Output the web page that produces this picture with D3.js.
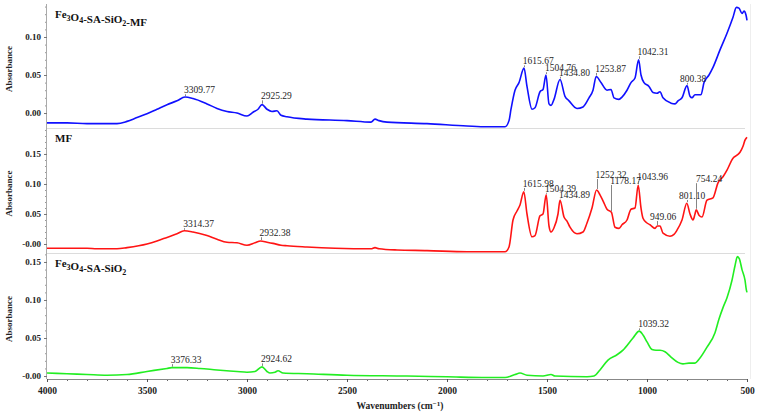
<!DOCTYPE html>
<html>
<head>
<meta charset="utf-8">
<script src="https://cdn.jsdelivr.net/npm/d3@7"></script>
<style>
  body { margin: 0; background: #fff; }
  svg { display: block; font-family: "Liberation Serif", "DejaVu Serif", serif; }
</style>
</head>
<body>
<div id="app"></div>
<script>
// spectra, [wavenumber, absorbance]
let mfSilicaAbs = [
  [4000,-0.013],[3900,-0.013],[3800,-0.014],[3700,-0.014],[3650,-0.014],[3600,-0.011],[3550,-0.006],
  [3500,-0.001],[3450,0.005],[3400,0.011],[3350,0.016],[3310,0.021],[3270,0.019],[3200,0.012],
  [3150,0.006],[3100,0.002],[3050,0.000],[3000,-0.004],[2970,0.001],[2945,0.005],[2925,0.011],
  [2900,0.005],[2875,0.002],[2850,0.003],[2830,-0.003],[2800,-0.005],[2700,-0.008],[2500,-0.010],
  [2380,-0.012],[2360,-0.008],[2340,-0.010],[2300,-0.012],[2100,-0.014],[1900,-0.017],[1800,-0.018],
  [1710,-0.018],[1690,-0.010],[1680,0.005],[1660,0.030],[1640,0.040],[1615,0.059],[1600,0.035],
  [1575,0.005],[1560,0.007],[1535,0.028],[1520,0.031],[1505,0.050],[1490,0.012],[1480,0.010],
  [1465,0.018],[1435,0.044],[1410,0.022],[1390,0.016],[1350,0.006],[1320,0.008],[1290,0.020],
  [1270,0.030],[1254,0.048],[1230,0.040],[1200,0.030],[1180,0.031],[1165,0.020],[1140,0.018],
  [1125,0.021],[1100,0.030],[1080,0.040],[1060,0.046],[1042,0.070],[1030,0.050],[1015,0.040],
  [990,0.035],[970,0.027],[950,0.026],[935,0.028],[920,0.020],[880,0.013],[860,0.012],[845,0.016],
  [825,0.020],[800,0.036],[785,0.022],[775,0.020],[760,0.024],[730,0.024],[715,0.040],[690,0.050],
  [670,0.060],[635,0.083],[600,0.105],[570,0.126],[553,0.139],[540,0.138],[525,0.131],[515,0.134],
  [505,0.129],[500,0.122]
];

let mfAbs = [
  [4000,-0.007],[3800,-0.007],[3750,-0.008],[3650,-0.008],[3600,-0.006],[3500,0.000],[3450,0.005],
  [3400,0.011],[3350,0.017],[3314,0.022],[3270,0.020],[3200,0.014],[3150,0.008],[3100,0.003],
  [3050,0.002],[3000,-0.002],[2960,0.002],[2932,0.005],[2900,0.003],[2870,0.001],[2830,-0.002],
  [2800,-0.003],[2700,-0.005],[2560,-0.007],[2380,-0.008],[2360,-0.006],[2340,-0.008],[2250,-0.010],
  [2100,-0.011],[1900,-0.013],[1710,-0.013],[1690,-0.005],[1670,0.040],[1650,0.055],[1635,0.065],
  [1616,0.087],[1600,0.050],[1575,0.012],[1560,0.014],[1535,0.047],[1520,0.050],[1504,0.082],
  [1490,0.030],[1480,0.020],[1465,0.027],[1445,0.050],[1435,0.073],[1415,0.045],[1400,0.038],
  [1385,0.028],[1350,0.017],[1320,0.020],[1300,0.035],[1275,0.060],[1252,0.090],[1235,0.082],
  [1220,0.072],[1200,0.058],[1178,0.053],[1160,0.028],[1140,0.026],[1125,0.032],[1100,0.040],
  [1080,0.058],[1060,0.060],[1044,0.098],[1030,0.060],[1020,0.043],[1000,0.035],[985,0.032],
  [960,0.026],[949,0.030],[935,0.030],[920,0.018],[885,0.013],[865,0.016],[850,0.023],[825,0.040],
  [801,0.068],[785,0.050],[770,0.040],[760,0.050],[754,0.057],[740,0.048],[725,0.045],[700,0.073],
  [670,0.077],[645,0.102],[620,0.112],[600,0.123],[570,0.143],[550,0.148],[535,0.153],[520,0.163],
  [510,0.173],[500,0.178]
];

let silicaAbs = [
  [4000,0.004],[3900,0.003],[3800,0.002],[3700,0.001],[3600,0.002],[3500,0.006],[3400,0.010],
  [3376,0.011],[3300,0.011],[3235,0.010],[3150,0.008],[3050,0.006],[3000,0.005],[2960,0.006],
  [2925,0.012],[2900,0.006],[2885,0.004],[2860,0.005],[2845,0.007],[2820,0.004],[2700,0.003],
  [2500,0.001],[2200,0.000],[2000,-0.001],[1800,-0.002],[1710,-0.002],[1660,0.002],[1635,0.004],
  [1600,0.001],[1520,0.000],[1480,0.002],[1460,0.000],[1300,-0.001],[1265,0.000],[1235,0.008],
  [1195,0.021],[1150,0.028],[1120,0.034],[1070,0.050],[1039,0.059],[1020,0.054],[1000,0.045],
  [975,0.035],[955,0.034],[935,0.034],[910,0.032],[880,0.025],[845,0.018],[820,0.016],[790,0.017],
  [760,0.017],[740,0.022],[700,0.038],[660,0.057],[640,0.075],[620,0.090],[600,0.103],[575,0.126],
  [560,0.145],[548,0.157],[538,0.154],[525,0.140],[510,0.126],[503,0.113],[500,0.110]
];

// peak labels: [wavenumber, peak absorbance, label absorbance, text, label wavenumber]
let mfSilicaPeaks = [
  [3309.77,0.021,0.026,'3309.77'],[2925.29,0.011,0.018,'2925.29'],[1615.67,0.059,0.064,'1615.67'],
  [1504.76,0.050,0.055,'1504.76'],[1434.80,0.044,0.049,'1434.80'],[1253.87,0.048,0.054,'1253.87'],
  [1042.31,0.070,0.076,'1042.31'],[800.38,0.036,0.041,'800.38',830]
];
let mfPeaks = [
  [3314.37,0.022,0.028,'3314.37'],[2932.38,0.005,0.013,'2932.38'],[1615.98,0.087,0.095,'1615.98'],
  [1504.39,0.082,0.087,'1504.39'],[1434.89,0.073,0.077,'1434.89'],[1252.32,0.090,0.110,'1252.32'],
  [1178.17,0.053,0.100,'1178.17'],[1043.96,0.098,0.107,'1043.96'],[949.06,0.030,0.040,'949.06',980],
  [801.10,0.068,0.075,'801.10',835],[754.24,0.057,0.103,'754.24',750]
];
let silicaPeaks = [
  [3376.33,0.011,0.017,'3376.33'],[2924.62,0.012,0.018,'2924.62'],[1039.32,0.059,0.064,'1039.32']
];

let titles = ['Fe3O4-SA-SiO2-MF', 'MF', 'Fe3O4-SA-SiO2'];
let colors = ['#1010ff', '#ff1414', '#22ee22'];
let yTicks = [[0.10, 0.05, 0], [0.15, 0.10, 0.05, 0], [0.15, 0.10, 0.05, 0]];
let yTickLabels = [['0.10','0.05','0.00'], ['0.15','0.10','0.05','-0.00'], ['0.15','0.10','0.05','-0.00']];
let xTicks = [4000, 3500, 3000, 2500, 2000, 1500, 1000, 500];

let svgWidth = 758, svgHeight = 414;
let left = 47, right = 747;

        //panel pixel bands and absorbance range
let panels = [
  {top: 4,   bottom: 128, domain: [-0.0197, 0.1434], data: mfSilicaAbs, peaks: mfSilicaPeaks},
  {top: 128, bottom: 253, domain: [-0.015, 0.1933],  data: mfAbs,       peaks: mfPeaks},
  {top: 253, bottom: 379, domain: [-0.0039, 0.1618], data: silicaAbs,   peaks: silicaPeaks}
];

let svg = d3.select('#app').append('svg')
    .attr('width', svgWidth)
    .attr('height', svgHeight);

let x = d3.scaleLinear().domain([4000, 500]).range([left, right]);

panels.forEach((p, i) => {
    let y = d3.scaleLinear().domain(p.domain).range([p.bottom, p.top]);

    svg.append('clipPath').attr('id', 'clip' + i)
      .append('rect')
        .attr('x', left).attr('y', p.top)
        .attr('width', right - left + 3).attr('height', p.bottom - p.top);

        //separator at the top of the lower panels
    if (i > 0) {
        svg.append('line')
            .attr('x1', left).attr('x2', 745)
            .attr('y1', p.top + 0.5).attr('y2', p.top + 0.5)
            .attr('stroke', '#dcdcdc');
    }

    let g = svg.append('g');

        //minor ticks
    let yAxisMinor = d3.axisLeft(y)
        .tickValues(d3.range(0, p.domain[1], 0.01).filter(v => v > p.domain[0]))
        .tickSize(2).tickFormat('');
    g.append('g')
        .attr('transform', `translate(${left},0)`)
        .call(yAxisMinor)
        .call(a => a.select('.domain').remove())
        .call(a => a.selectAll('line').attr('stroke', '#999'));

    let yAxis = d3.axisLeft(y)
        .tickValues(yTicks[i])
        .tickSize(3)
        .tickPadding(3)
        .tickFormat((d, k) => yTickLabels[i][k]);
    g.append('g')
        .attr('transform', `translate(${left},0)`)
        .call(yAxis)
        .call(a => a.select('.domain').attr('stroke', '#aaa').attr('d', `M-0.5,${p.top}V${p.bottom}`))
        .call(a => a.selectAll('line').attr('stroke', '#777'))
        .call(a => a.selectAll('text')
            .attr('font-family', '"Liberation Serif", serif')
            .attr('font-weight', 'bold')
            .attr('font-size', 9)
            .attr('fill', '#222'));

        //y label
    svg.append('text')
        .attr('transform', `translate(12,${(p.top + p.bottom) / 2 + 3}) rotate(-90)`)
        .attr('text-anchor', 'middle')
        .attr('font-weight', 'bold')
        .attr('font-size', 9)
        .attr('fill', '#222')
        .text('Absorbance');

        //spectrum
    let line = d3.line()
        .x(d => x(d[0]))
        .y(d => y(d[1]))
        .curve(d3.curveMonotoneX);

    svg.append('path')
        .datum(p.data)
        .attr('clip-path', `url(#clip${i})`)
        .attr('fill', 'none')
        .attr('stroke', colors[i])
        .attr('stroke-width', 1.6)
        .attr('stroke-linejoin', 'round')
        .attr('d', line);

        //peak markers
    let pk = svg.append('g').selectAll('g')
        .data(p.peaks)
        .enter().append('g');

    pk.append('line')
        .attr('x1', d => Math.round(x(d[0])) + 0.5)
        .attr('x2', d => Math.round(x(d[0])) + 0.5)
        .attr('y1', d => y(d[1]) - 1)
        .attr('y2', d => y(d[2]) + 1)
        .attr('stroke', '#666')
        .attr('stroke-width', 0.8);

    pk.append('text')
        .attr('x', d => x(d[4] || d[0]) - 1)
        .attr('y', d => y(d[2]))
        .attr('font-size', 9.5)
        .attr('fill', '#1e1e1e')
        .text(d => d[3]);

        //panel title, digits as subscripts
    let title = svg.append('text')
        .attr('x', 55)
        .attr('y', p.top + 14)
        .attr('font-weight', 'bold')
        .attr('font-size', 11)
        .attr('fill', '#111');
    titles[i].split(/(\d)/).filter(s => s).forEach(s => {
        if (/\d/.test(s)) {
            title.append('tspan').attr('font-size', 8).attr('dy', 2.5).text(s);
            title.append('tspan').attr('dy', -2.5).text('');
        } else {
            title.append('tspan').text(s);
        }
    });
});

        //faint right edge
svg.append('line')
    .attr('x1', 750.5).attr('x2', 750.5)
    .attr('y1', 4).attr('y2', 379)
    .attr('stroke', '#eeeeee');

        //x axis
let xMinor = d3.axisBottom(x).tickValues(d3.range(500, 4001, 100)).tickSize(2).tickFormat('');
svg.append('g')
    .attr('transform', `translate(0,${379})`)
    .call(xMinor)
    .call(a => a.select('.domain').remove())
    .call(a => a.selectAll('line').attr('stroke', '#666'));

let xAxis = d3.axisBottom(x).tickValues(xTicks).tickSize(3).tickPadding(5).tickFormat(d3.format('d'));
svg.append('g')
    .attr('transform', `translate(0,${379})`)
    .call(xAxis)
    .call(a => a.select('.domain').attr('stroke', '#888').attr('d', `M${left},0.5H${right + 1}`))
    .call(a => a.selectAll('line').attr('stroke', '#555'))
    .call(a => a.selectAll('text')
        .attr('font-family', '"Liberation Serif", serif')
        .attr('font-weight', 'bold')
        .attr('font-size', 9.5)
        .attr('fill', '#222'));

let xTitle = svg.append('text')
    .attr('x', 400)
    .attr('y', 409)
    .attr('text-anchor', 'middle')
    .attr('font-weight', 'bold')
    .attr('font-size', 9.5)
    .attr('fill', '#222');
xTitle.append('tspan').text('Wavenumbers  (cm');
xTitle.append('tspan').attr('font-size', 7).attr('dy', -3.5).text('−1');
xTitle.append('tspan').attr('dy', 3.5).text(')');
</script>
</body>
</html>
